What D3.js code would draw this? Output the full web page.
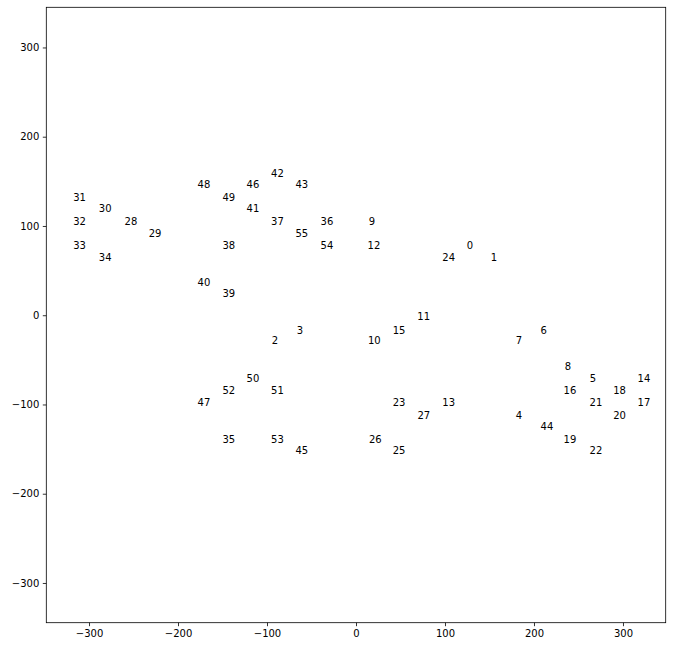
<!DOCTYPE html>
<html lang="en">
<head>
<meta charset="UTF-8">
<title>Labelled points</title>
<style>
  body { margin: 0; background: #fff; }
  svg { display: block; font-family: "DejaVu Sans", sans-serif; }
  .tick text { font-size: 10px; fill: #000; }
  .pt { font-size: 10px; fill: #000; }
</style>
</head>
<body>
<div id="chart"></div>
<script src="https://d3js.org/d3.v7.min.js"></script>
<script>
// point index labels and their coordinates
const labels = d3.range(56);
const xs = [124.5, 151.5, -94.6, -66.5, 179.6, 262.7, 207.3, 179.6, 234.6, 14.4,
            13.5, 68.9, 13.0, 97.0, 316.4, 41.3, 233.3, 316.4, 289.0, 233.3,
            289.0, 262.5, 262.5, 41.3, 97.0, 41.3, 14.6, 69.0, -260.0, -233.0,
            -289.0, -317.7, -317.7, -317.7, -289.0, -150.0, -39.8, -95.4, -150.0, -150.0,
            -178.0, -123.0, -95.4, -68.0, 207.4, -68.0, -123.0, -178.0, -178.0, -150.0,
            -123.0, -95.4, -150.0, -95.4, -39.8, -68.0];
const ys = [73.7, 60.3, -32.8, -20.5, -115.8, -74.3, -20.5, -32.8, -60.9, 100.6,
            -32.8, -5.9, 73.7, -101.2, -74.3, -20.5, -87.8, -101.2, -87.8, -142.7,
            -115.8, -101.2, -155.0, -101.2, 60.3, -155.0, -142.7, -115.8, 100.6, 87.2,
            115.2, 127.5, 100.6, 73.7, 60.3, -142.7, 100.6, 100.6, 73.7, 19.9,
            32.3, 115.2, 154.4, 142.0, -128.1, -155.0, 142.0, -101.2, 142.0, 127.5,
            -74.3, -87.8, -87.8, -142.7, 73.7, 87.2];
const xTicks = [-300, -200, -100, 0, 100, 200, 300];
const yTicks = [-300, -200, -100, 0, 100, 200, 300];

const W = 674, H = 649;
const margin = { top: 7.3, right: 8.3, bottom: 26.3, left: 46.3 };
const width = W - margin.left - margin.right;
const height = H - margin.top - margin.bottom;

const x = d3.scaleLinear().domain([-348, 348]).range([0, width]);
const y = d3.scaleLinear().domain([-344.5, 345]).range([height, 0]);

const svg = d3.select("#chart").append("svg")
    .attr("width", W)
    .attr("height", H);
svg.append("rect").attr("width", W).attr("height", H).attr("fill", "#fff");

const g = svg.append("g")
    .attr("transform", `translate(${margin.left},${margin.top})`);

const fmt = d => d < 0 ? "\u2212" + Math.abs(d) : String(d);

const xAxis = g.append("g")
    .attr("transform", `translate(0,${height})`)
    .call(d3.axisBottom(x).tickValues(xTicks).tickFormat(fmt).tickSize(3.5).tickPadding(3.5));
const yAxis = g.append("g")
    .call(d3.axisLeft(y).tickValues(yTicks).tickFormat(fmt).tickSize(3.5).tickPadding(3.5));

[xAxis, yAxis].forEach(a => {
    a.select(".domain").remove();
    a.selectAll(".tick line").attr("stroke", "#000").attr("stroke-width", 0.8);
    a.attr("font-family", null).attr("font-size", null);
});

// frame
g.append("rect")
    .attr("width", width)
    .attr("height", height)
    .attr("fill", "none")
    .attr("stroke", "#000")
    .attr("stroke-width", 0.8);

g.selectAll(".pt")
    .data(labels)
    .enter()
    .append("text")
    .attr("class", "pt")
    .attr("x", i => x(xs[i]))
    .attr("y", i => y(ys[i]))
    .text(i => i);
</script>
</body>
</html>
